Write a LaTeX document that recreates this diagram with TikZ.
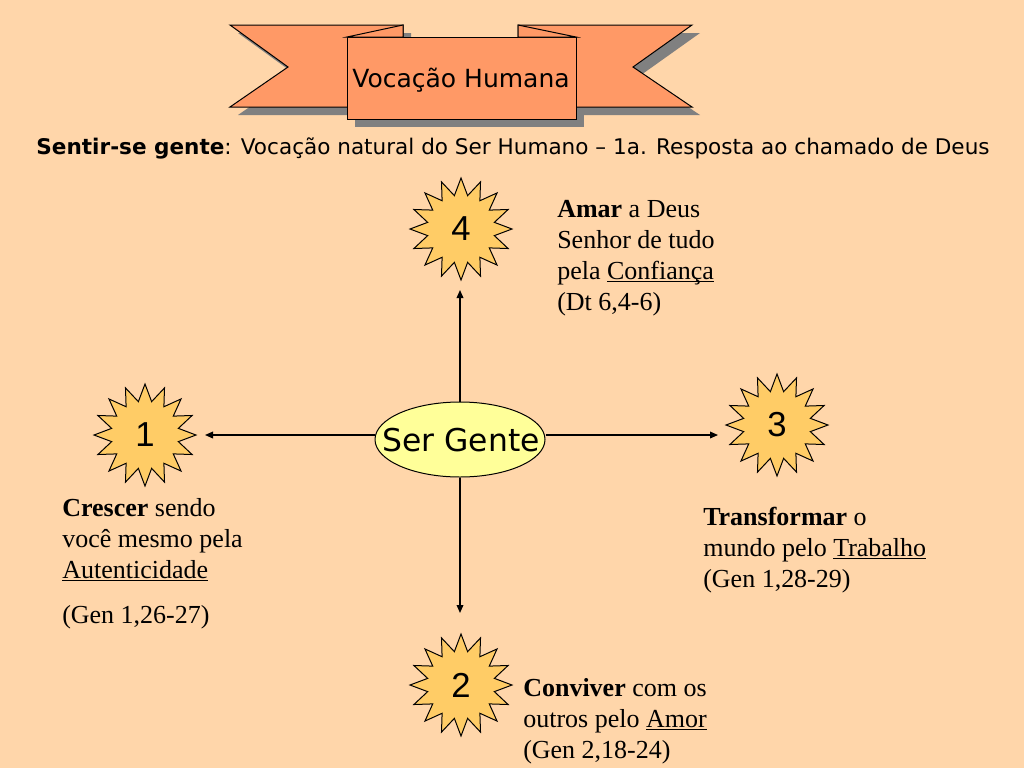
\documentclass[tikz,border=0pt]{standalone}
\usepackage{graphicx}
\usepackage{fontspec}
\setmainfont{Liberation Serif}
\newfontfamily\comic{DejaVu Sans}
\newfontfamily\numfont{Liberation Sans}
\usetikzlibrary{shapes.geometric,arrows.meta}
\definecolor{bg}{HTML}{FFD6AA}
\definecolor{ribbonfill}{HTML}{FF9966}
\definecolor{starfill}{HTML}{FFCC66}
\definecolor{ellfill}{HTML}{FFFF99}
\definecolor{shadowgray}{HTML}{808080}
\newcommand\ulword[1]{\underline{\smash{#1}}}
\begin{document}
\begin{tikzpicture}[x=0.75pt,y=-0.75pt,
  starbox/.style={star, star points=16, star point ratio=1.5, minimum size=76.5pt, inner sep=0pt,
    draw=black, line width=0.75pt, fill=starfill, font=\numfont\fontsize{26pt}{26pt}\selectfont},
  body/.style={anchor=north west, inner sep=0pt, align=left, font=\fontsize{19.5pt}{23.25pt}\selectfont},
  arr/.style={line width=1pt, draw=black, -{Triangle[length=6pt,width=5pt]}},
  ribbon/.style={fill=ribbonfill, draw=black, line width=0.75pt, line join=miter},
  shadowbox/.style={fill=shadowgray, draw=none}]
\useasboundingbox[fill=bg] (0,0) rectangle (1024,768);

% banner shadows
\fill[shadowbox] (238,33) -- (411,33) -- (411,115) -- (238,115) -- (296,75) -- cycle;
\fill[shadowbox] (526,33) -- (700,33) -- (641,75) -- (700,115) -- (526,115) -- cycle;
\fill[shadowbox] (355,45) rectangle (584,127);
% tails
\draw[ribbon] (230,25) -- (403,25) -- (403,107) -- (230,107) -- (288,67) -- cycle;
\draw[ribbon] (518,25) -- (692,25) -- (633,67) -- (692,107) -- (518,107) -- cycle;
% main panel
\node[ribbon, rectangle, inner sep=0pt, minimum width=171.75pt, minimum height=61.5pt] (title) at (461.5,78) {};
\node (titletext) at (461,80) {\resizebox{163pt}{!}{\comic Vocação Humana}};
% folds
\draw[ribbon] (347,37) -- (403,25) -- (403,37) -- cycle;
\draw[ribbon] (576,37) -- (518,25) -- (518,37) -- cycle;

% subtitle
\node (sub) at (513,148) {\resizebox{714.75pt}{!}{\comic\textbf{Sentir-se gente}: Vocação natural do Ser Humano – 1a. Resposta ao chamado de Deus}};

% stars
\node[starbox] (s4) at (461,229) {4};
\node[starbox] (s1) at (145,435) {1};
\node[starbox] (s3) at (777,425) {3};
\node[starbox] (s2) at (461,685) {2};

% arrow ends
\coordinate (t1) at (205,435);
\coordinate (t3) at (718,435);
\coordinate (t4) at (460,290);
\coordinate (t2) at (460,613);

% centre ellipse
\node[ellipse, draw=black, line width=0.75pt, fill=ellfill, minimum width=127.5pt, minimum height=56.25pt, inner sep=0pt] (sg) at (460,439.5) {};
\draw[arr] (sg.west |- t1) -- (t1);
\draw[arr] (sg.east |- t3) -- (t3);
\draw[arr] (sg.north) -- (t4);
\draw[arr] (sg.south) -- (t2);
\node (sgtext) at (461,440) {\resizebox{118pt}{!}{\comic Ser Gente}};

% texts
\node[body] (txt4) at (557,200) {\textbf{Amar} a Deus\\Senhor de tudo\\pela \ulword{Confiança}\\(Dt 6,4-6)};
\node[body] (txt1) at (62,498) {\textbf{Crescer} sendo\\você mesmo pela\\\ulword{Autenticidade}\\[10.5pt](Gen 1,26-27)};
\node[body] (txt3) at (703,507) {\textbf{Transformar} o\\mundo pelo \ulword{Trabalho}\\(Gen 1,28-29)};
\node[body] (txt2) at (523,678) {\textbf{Conviver} com os\\outros pelo \ulword{Amor}\\(Gen 2,18-24)};
\end{tikzpicture}
\end{document}
